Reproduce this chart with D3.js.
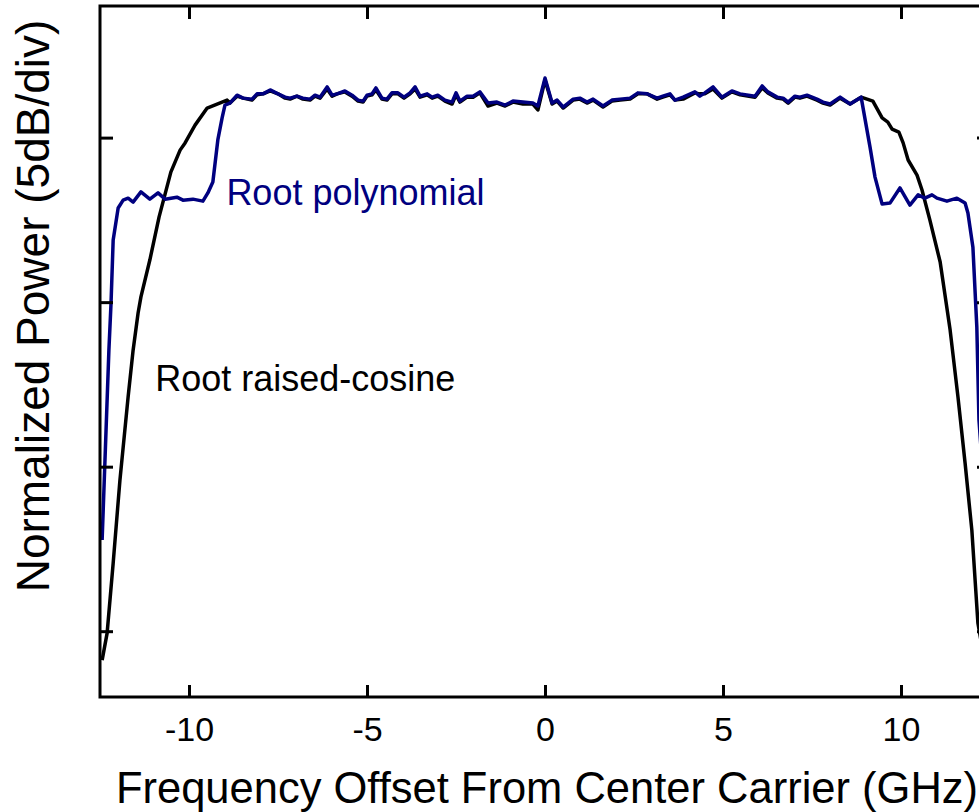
<!DOCTYPE html>
<html>
<head>
<meta charset="utf-8">
<script src="https://cdn.jsdelivr.net/npm/d3@7"></script>
<style>
	body { margin: 0; background: #fff; }
	text { font-family: Arial, "Liberation Sans", sans-serif; }
</style>
</head>
<body>
<div class="content"></div>
<script>
(function() {
	// frequency offset in GHz, power in dB (relative to the 0 dB tick)
	var polyFreq = [-12.44, -12.25, -12.19, -12.13, -11.99, -11.85, -11.71, -11.57, -11.35, -11.10,
		-10.87, -10.67, -10.34, -10.17, -9.89, -9.61, -9.47, -9.33, -9.19, -9.07,
		-8.99, -8.85, -8.65, -8.48, -8.23, -8.09, -7.92, -7.72, -7.50, -7.30,
		-7.16, -6.97, -6.80, -6.60, -6.46, -6.32, -6.12, -5.98, -5.84, -5.62,
		-5.42, -5.25, -5.11, -5.00, -4.86, -4.75, -4.58, -4.44, -4.30, -4.13,
		-3.96, -3.79, -3.65, -3.51, -3.31, -3.17, -3.01, -2.81, -2.61, -2.50,
		-2.39, -2.19, -2.02, -1.83, -1.60, -1.35, -1.12, -0.90, -0.62, -0.34,
		-0.20, 0.00, 0.20, 0.34, 0.51, 0.79, 0.98, 1.18, 1.35, 1.63,
		1.88, 2.11, 2.39, 2.61, 2.87, 3.15, 3.31, 3.51, 3.65, 3.88,
		4.21, 4.35, 4.49, 4.72, 4.97, 5.25, 5.48, 5.90, 6.10, 6.26,
		6.52, 6.69, 6.83, 7.02, 7.16, 7.36, 7.64, 7.81, 8.01, 8.29,
		8.57, 8.88, 9.13, 9.27, 9.47, 9.69, 9.97, 10.25, 10.48, 10.67,
		10.87, 11.01, 11.29, 11.57, 11.80, 11.88, 12.02, 12.13, 12.19, 12.44];
	var polyPower = [-12.23, -6.46, -5.03, -3.11, -2.14, -1.90, -1.84, -1.96, -1.65, -1.87,
		-1.68, -1.87, -1.81, -1.90, -1.87, -1.93, -1.68, -1.35, -0.07, 0.60,
		0.99, 1.05, 1.29, 1.20, 1.17, 1.33, 1.33, 1.45, 1.33, 1.23,
		1.20, 1.26, 1.20, 1.17, 1.29, 1.23, 1.54, 1.29, 1.33, 1.42,
		1.29, 1.14, 1.11, 1.29, 1.33, 1.51, 1.20, 1.17, 1.36, 1.36,
		1.23, 1.36, 1.54, 1.26, 1.33, 1.23, 1.29, 1.14, 1.08, 1.36,
		1.11, 1.26, 1.26, 1.39, 1.05, 1.08, 0.99, 1.11, 1.08, 1.05,
		0.96, 1.81, 1.05, 1.14, 0.93, 1.17, 1.20, 1.08, 1.17, 0.96,
		1.14, 1.17, 1.20, 1.36, 1.33, 1.20, 1.26, 1.33, 1.14, 1.23,
		1.39, 1.26, 1.36, 1.54, 1.23, 1.42, 1.33, 1.26, 1.57, 1.39,
		1.23, 1.20, 1.08, 1.26, 1.23, 1.29, 1.17, 1.08, 1.02, 1.23,
		1.02, 1.23, -0.29, -1.20, -2.02, -1.99, -1.53, -2.05, -1.74, -1.84,
		-1.74, -1.84, -1.93, -1.84, -1.99, -2.29, -3.33, -5.76, -8.58, -12.30];

	var rrcFreq = [-12.44, -12.30, -12.13, -11.94, -11.71, -11.57, -11.43, -11.35, -11.10, -10.84,
		-10.51, -10.25, -10.11, -9.83, -9.49, -8.93, -8.85, -8.65, -8.48, -8.23,
		-8.09, -7.92, -7.72, -7.50, -7.30, -7.16, -6.97, -6.80, -6.60, -6.46,
		-6.32, -6.12, -5.98, -5.84, -5.62, -5.42, -5.25, -5.11, -5.00, -4.86,
		-4.75, -4.58, -4.44, -4.30, -4.13, -3.96, -3.79, -3.65, -3.51, -3.31,
		-3.17, -3.01, -2.81, -2.61, -2.50, -2.39, -2.19, -2.02, -1.83, -1.60,
		-1.35, -1.12, -0.90, -0.62, -0.34, -0.20, 0.00, 0.20, 0.34, 0.51,
		0.79, 0.98, 1.18, 1.35, 1.63, 1.88, 2.11, 2.39, 2.61, 2.87,
		3.15, 3.31, 3.51, 3.65, 3.88, 4.21, 4.35, 4.49, 4.72, 4.97,
		5.25, 5.48, 5.90, 6.10, 6.26, 6.52, 6.69, 6.83, 7.02, 7.16,
		7.36, 7.64, 7.81, 8.01, 8.29, 8.57, 8.88, 9.21, 9.47, 9.63,
		9.75, 9.94, 10.06, 10.20, 10.45, 10.59, 10.81, 11.10, 11.38, 11.60,
		11.80, 11.99, 12.16, 12.44];
	var rrcPower = [-15.88, -15.06, -12.93, -10.41, -7.88, -6.46, -5.33, -4.84, -3.72, -2.41,
		-1.05, -0.38, -0.16, 0.38, 0.90, 1.14, 1.05, 1.26, 1.20, 1.14,
		1.30, 1.33, 1.42, 1.33, 1.20, 1.17, 1.26, 1.17, 1.14, 1.26,
		1.20, 1.48, 1.26, 1.33, 1.39, 1.26, 1.11, 1.08, 1.26, 1.30,
		1.45, 1.17, 1.14, 1.33, 1.33, 1.20, 1.33, 1.48, 1.23, 1.30,
		1.20, 1.26, 1.11, 1.02, 1.30, 1.08, 1.23, 1.23, 1.36, 0.96,
		1.05, 0.96, 1.08, 1.02, 1.02, 0.84, 1.75, 1.02, 1.11, 0.90,
		1.14, 1.17, 1.05, 1.14, 0.93, 1.11, 1.14, 1.17, 1.33, 1.33,
		1.17, 1.23, 1.30, 1.14, 1.17, 1.36, 1.33, 1.33, 1.48, 1.20,
		1.39, 1.30, 1.23, 1.51, 1.36, 1.20, 1.17, 1.05, 1.23, 1.20,
		1.26, 1.14, 1.05, 0.99, 1.20, 1.02, 1.23, 1.11, 0.60, 0.47,
		0.26, 0.17, -0.16, -0.68, -1.14, -1.59, -2.50, -3.78, -5.85, -7.88,
		-9.89, -11.93, -14.75, -16.50];

	var xTicks = [-10, -5, 0, 5, 10];
	var xTickLabels = ["-10", "-5", "0", "5", "10"];
	var yTicks = [0, -5, -10, -15];

	var width = 979, height = 812;
	var margin = {left: 100, top: 6, right: 990, bottom: 697};

	var svg = d3.select(".content")
		.append("svg")
		.attr("width", width)
		.attr("height", height);

	var x = d3.scaleLinear().domain([-12.5, 12.5]).range([margin.left, margin.right]);
	var y = d3.scaleLinear().domain([-17, 4]).range([margin.bottom, margin.top]);

	svg.append("clipPath")
		.attr("id", "plot-clip")
		.append("rect")
		.attr("x", margin.left)
		.attr("y", margin.top)
		.attr("width", margin.right - margin.left)
		.attr("height", margin.bottom - margin.top);

	var line = d3.line()
		.x(function(d) { return x(d[0]); })
		.y(function(d) { return y(d[1]); });

	var rrc = d3.zip(rrcFreq, rrcPower);
	var poly = d3.zip(polyFreq, polyPower);

	svg.append("path")
		.datum(rrc)
		.attr("clip-path", "url(#plot-clip)")
		.attr("fill", "none")
		.attr("stroke", "#000")
		.attr("stroke-width", 3.5)
		.attr("stroke-linejoin", "round")
		.attr("d", line);

	svg.append("path")
		.datum(poly)
		.attr("clip-path", "url(#plot-clip)")
		.attr("fill", "none")
		.attr("stroke", "#00007f")
		.attr("stroke-width", 3.5)
		.attr("stroke-linejoin", "round")
		.attr("d", line);

	// axes: ticks point inward on all four sides
	function styleAxis(g) {
		g.select(".domain").remove();
		g.selectAll(".tick line").attr("stroke", "#000").attr("stroke-width", 3);
		g.selectAll(".tick text")
			.attr("fill", "#000")
			.style("font-size", "34px");
	}

	svg.append("g")
		.attr("transform", "translate(0," + margin.bottom + ")")
		.call(d3.axisBottom(x).tickValues(xTicks).tickSize(-12).tickPadding(20)
			.tickFormat(function(d, i) { return xTickLabels[i]; }))
		.call(styleAxis);

	svg.append("g")
		.attr("transform", "translate(0," + margin.top + ")")
		.call(d3.axisTop(x).tickValues(xTicks).tickSize(-13).tickFormat(""))
		.call(styleAxis);

	svg.append("g")
		.attr("transform", "translate(" + margin.left + ",0)")
		.call(d3.axisLeft(y).tickValues(yTicks).tickSize(-13).tickFormat(""))
		.call(styleAxis);

	svg.append("g")
		.attr("transform", "translate(" + margin.right + ",0)")
		.call(d3.axisRight(y).tickValues(yTicks).tickSize(-13).tickFormat(""))
		.call(styleAxis);

	svg.append("rect")
		.attr("x", margin.left)
		.attr("y", margin.top)
		.attr("width", margin.right - margin.left)
		.attr("height", margin.bottom - margin.top)
		.attr("fill", "none")
		.attr("stroke", "#000")
		.attr("stroke-width", 3);

	svg.append("text")
		.text("Root polynomial")
		.attr("x", x(-8.95))
		.attr("y", y(-2.05))
		.attr("fill", "#00007f")
		.style("font-size", "36px");

	svg.append("text")
		.text("Root raised-cosine")
		.attr("x", x(-10.95))
		.attr("y", y(-7.7))
		.attr("fill", "#000")
		.style("font-size", "36px");

	svg.append("text")
		.text("Frequency Offset From Center Carrier (GHz)")
		.attr("x", 547)
		.attr("y", 803)
		.attr("text-anchor", "middle")
		.style("font-size", "43.5px");

	svg.append("text")
		.text("Normalized Power (5dB/div)")
		.attr("transform", "translate(49,306) rotate(-90)")
		.attr("text-anchor", "middle")
		.style("font-size", "46px");
}());
</script>
</body>
</html>
